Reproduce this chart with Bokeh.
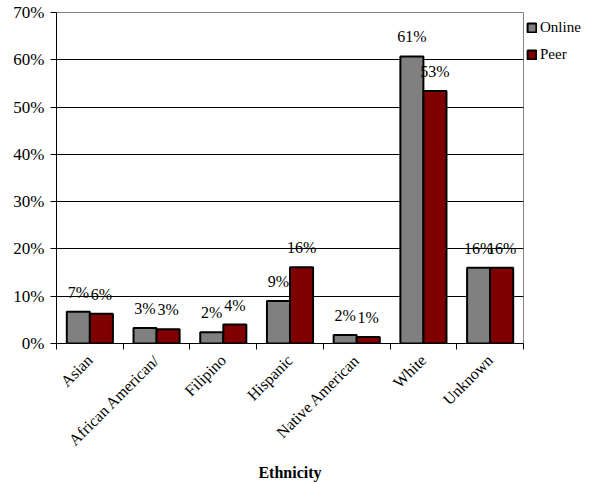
import math
import numpy as np
from bokeh.plotting import figure
from bokeh.models import (ColumnDataSource, Range1d, FixedTicker, NumeralTickFormatter,
                          Legend, LegendItem, LabelSet)
from bokeh.core.properties import value
from bokeh.embed import file_html
from bokeh.resources import INLINE

categories = ["Asian", "African American/", "Filipino", "Hispanic",
              "Native American", "White", "Unknown"]
online = [0.067, 0.033, 0.024, 0.090, 0.018, 0.607, 0.160]
peer = [0.063, 0.030, 0.040, 0.161, 0.014, 0.534, 0.160]
y_ticks = [0.0, 0.1, 0.2, 0.3, 0.4, 0.5, 0.6, 0.7]

FONT = "Liberation Serif"
GREY = "#808080"
RED = "#800000"
BW = 0.345
OFF = 0.173

idx = np.arange(len(categories)) + 0.5
src = ColumnDataSource(dict(
    xo=idx - OFF, xp=idx + OFF, online=online, peer=peer,
    lo=[f"{round(v * 100)}%" for v in online],
    lp=[f"{round(v * 100)}%" for v in peer],
))

p = figure(frame_width=467, frame_height=331, output_backend="svg", toolbar_location=None,
           x_range=Range1d(0, len(categories)), y_range=Range1d(0, 0.7),
           min_border_left=56, min_border_right=0, min_border_top=12,
           min_border_bottom=139)
p.background_fill_color = "white"
p.border_fill_color = "white"
p.outline_line_color = GREY
p.outline_line_width = 1

r1 = p.vbar(x="xo", top="online", width=BW, source=src, fill_color=GREY,
            line_color="black", line_width=2)
r2 = p.vbar(x="xp", top="peer", width=BW, source=src, fill_color=RED,
            line_color="black", line_width=2)

for xcol, tcol, ycol in (("xo", "lo", "online"), ("xp", "lp", "peer")):
    labels = LabelSet(x=xcol, y=ycol, text=tcol, source=src, text_align="center",
                      text_baseline="alphabetic", y_offset=14,
                      text_font=value(FONT), text_font_size=value("16px"),
                      text_color=value("black"))
    p.add_layout(labels)

# x axis
p.xaxis.ticker = FixedTicker(ticks=list(idx), minor_ticks=list(range(len(categories) + 1)))
p.xaxis.major_label_overrides = {float(t): c for t, c in zip(idx, categories)}
p.xaxis.major_label_orientation = math.pi / 4
p.xaxis.major_tick_out = 0
p.xaxis.major_tick_in = 0
p.xaxis.minor_tick_out = 6
p.xaxis.minor_tick_in = 0
p.xaxis.minor_tick_line_color = "black"
p.xaxis.axis_line_color = "black"
p.xaxis.axis_line_width = 1
p.xaxis.major_label_text_font = FONT
p.xaxis.major_label_text_font_size = "16px"
p.xaxis.major_label_text_color = "black"
p.xaxis.major_label_standoff = 8
p.xaxis.axis_label = "Ethnicity"
p.xaxis.axis_label_text_font = FONT
p.xaxis.axis_label_text_font_style = "bold"
p.xaxis.axis_label_text_font_size = "16px"
p.xaxis.axis_label_text_color = "black"
p.xaxis.axis_label_standoff = 6

# y axis
p.yaxis.ticker = FixedTicker(ticks=y_ticks)
p.yaxis.formatter = NumeralTickFormatter(format="0%")
p.yaxis.major_tick_out = 6
p.yaxis.major_tick_in = 0
p.yaxis.minor_tick_line_color = None
p.yaxis.major_tick_line_color = "black"
p.yaxis.axis_line_color = "black"
p.yaxis.major_label_text_font = FONT
p.yaxis.major_label_text_font_size = "17px"
p.yaxis.major_label_text_color = "black"
p.yaxis.major_label_standoff = 6

p.xgrid.grid_line_color = None
p.ygrid.ticker = FixedTicker(ticks=y_ticks)
p.ygrid.grid_line_color = "black"
p.ygrid.grid_line_width = 1

legend = Legend(items=[LegendItem(label="Online", renderers=[r1]),
                       LegendItem(label="Peer", renderers=[r2])],
                location="top_left", margin=3, padding=3, spacing=3,
                glyph_width=11, glyph_height=11, label_standoff=3,
                label_text_font=FONT, label_text_font_size="15px",
                label_text_color="black",
                label_height=24, border_line_color=None,
                background_fill_alpha=0)
p.add_layout(legend, "right")

open("out.html", "w").write(file_html(p, INLINE))
